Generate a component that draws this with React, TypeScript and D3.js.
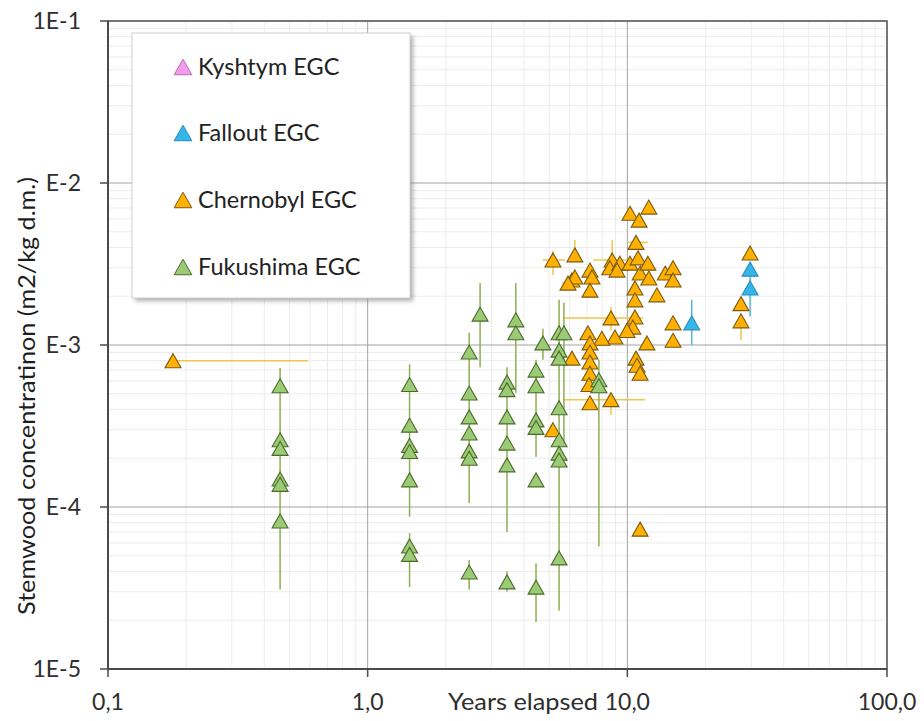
import React from 'react';
import * as d3 from 'd3';

// ---------- DATA ----------
const legendLabels = ['Kyshtym EGC', 'Fallout EGC', 'Chernobyl EGC', 'Fukushima EGC'];

const xTickValues = [0.1, 1, 10, 100];
const xTickLabels = ['0,1', '1,0', '10,0', '100,0'];
const yTickValues = [1e-1, 1e-2, 1e-3, 1e-4, 1e-5];
const yTickLabels = ['1E-1', 'E-2', 'E-3', 'E-4', '1E-5'];

const kyshtymYears: number[] = [];
const kyshtymConc: number[] = [];

const falloutYears = [17.7, 29.7, 29.7];
const falloutConc = [1.37e-3, 2.94e-3, 2.25e-3];
const falloutLow = [1.0e-3, null, 1.5e-3];
const falloutHigh = [1.9e-3, null, 2.94e-3];

const chernobylYears = [
  0.178, 5.17, 6.28, 6.12, 6.28, 5.91, 7.18, 7.31, 7.18, 8.74,
  8.56, 9.36, 9.13, 10.24, 12.1, 11.1, 10.8, 10.24, 11.0, 11.2,
  12.0, 12.1, 10.7, 10.7, 13.0, 14.0, 15.0, 15.0, 8.65, 10.7,
  10.5, 9.97, 8.96, 7.98, 7.05, 7.18, 7.18, 7.18, 7.18, 7.12,
  6.12, 11.9, 10.8, 10.9, 11.2, 7.18, 8.65, 5.17, 15.0, 15.0,
  27.4, 27.4, 29.7, 11.2,
];
const chernobylConc = [
  8.0e-4, 3.35e-3, 3.6e-3, 2.52e-3, 2.63e-3, 2.41e-3, 2.9e-3, 2.63e-3, 2.18e-3, 3.35e-3,
  3.0e-3, 3.2e-3, 2.9e-3, 6.5e-3, 7.1e-3, 5.9e-3, 4.3e-3, 3.2e-3, 3.45e-3, 2.78e-3,
  3.2e-3, 2.59e-3, 2.25e-3, 1.9e-3, 2.04e-3, 2.78e-3, 3.0e-3, 2.52e-3, 1.47e-3, 1.49e-3,
  1.29e-3, 1.23e-3, 1.12e-3, 1.1e-3, 1.19e-3, 1.03e-3, 9.05e-4, 7.85e-4, 6.7e-4, 5.7e-4,
  8.3e-4, 1.03e-3, 8.3e-4, 7.5e-4, 6.7e-4, 4.4e-4, 4.6e-4, 3.0e-4, 1.37e-3, 1.07e-3,
  1.8e-3, 1.41e-3, 3.7e-3, 7.3e-5,
];
// error bars (null = none)
const chernobylYearsLow: (number | null)[] = [
  null, 4.73, null, null, null, 5.6, null, null, null, 7.4,
  null, null, null, null, null, null, 10.0, null, null, null,
  null, null, null, null, null, null, null, null, 5.65, null,
  null, null, null, null, null, null, null, null, null, null,
  null, null, null, null, null, null, 5.65, null, null, null,
  null, null, null, null,
];
const chernobylYearsHigh: (number | null)[] = [
  0.59, 5.75, null, null, null, 6.3, null, null, null, 10.5,
  null, null, null, null, null, null, 12.0, null, null, null,
  null, null, null, null, null, null, null, null, 11.5, null,
  null, null, null, null, null, null, null, null, null, null,
  null, null, null, null, null, null, 11.7, null, null, null,
  null, null, null, null,
];
const chernobylLow: (number | null)[] = [
  null, 2.7e-3, null, null, null, null, null, null, null, null,
  null, null, null, null, null, null, null, null, null, null,
  null, null, null, null, null, null, null, null, 1.23e-3, null,
  null, null, null, null, null, null, null, null, null, null,
  null, null, null, null, null, null, 3.7e-4, null, null, null,
  null, 1.07e-3, null, null,
];
const chernobylHigh: (number | null)[] = [
  null, 3.8e-3, 4.45e-3, null, null, null, null, null, null, 4.45e-3,
  null, null, null, null, null, null, null, null, null, null,
  null, null, null, null, null, null, null, null, 1.72e-3, null,
  null, null, null, null, null, null, null, null, null, null,
  null, null, null, null, null, null, null, null, null, null,
  null, null, null, null,
];

const fukushimaYears = [
  0.46, 0.46, 0.46, 0.46, 0.46, 0.46,
  1.45, 1.45, 1.45, 1.45, 1.45, 1.45, 1.45,
  2.46, 2.46, 2.46, 2.46, 2.46, 2.46, 2.46,
  2.71,
  3.44, 3.44, 3.44, 3.44, 3.44, 3.44,
  3.72, 3.72,
  4.45, 4.45, 4.45, 4.45, 4.45, 4.45,
  4.73,
  5.46, 5.46, 5.46, 5.46, 5.46, 5.46, 5.46, 5.46,
  5.70,
  7.77, 7.77,
];
const fukushimaConc = [
  5.6e-4, 2.6e-4, 2.3e-4, 1.49e-4, 1.38e-4, 8.2e-5,
  5.7e-4, 3.2e-4, 2.4e-4, 2.2e-4, 1.47e-4, 5.75e-5, 5.1e-5,
  9.05e-4, 5.05e-4, 3.6e-4, 2.86e-4, 2.22e-4, 2.0e-4, 3.97e-5,
  1.55e-3,
  5.9e-4, 5.3e-4, 3.6e-4, 2.48e-4, 1.82e-4, 3.45e-5,
  1.43e-3, 1.19e-3,
  7.0e-4, 5.6e-4, 3.45e-4, 3.1e-4, 1.47e-4, 3.2e-5,
  1.03e-3,
  1.19e-3, 9.3e-4, 8.3e-4, 4.1e-4, 2.6e-4, 2.15e-4, 1.95e-4, 4.85e-5,
  1.19e-3,
  6.1e-4, 5.6e-4,
];
const fukushimaLow: (number | null)[] = [
  1.4e-4, null, null, null, null, 3.1e-5,
  8.7e-5, null, null, null, null, 3.2e-5, null,
  1.06e-4, null, null, null, null, null, 3.1e-5,
  7.3e-4,
  7.0e-5, null, null, null, null, 3.0e-5,
  5.05e-4, null,
  2.04e-4, null, null, null, null, 1.95e-5,
  8.1e-4,
  2.3e-5, null, null, null, null, null, null, null,
  2.35e-4,
  5.7e-5, null,
];
const fukushimaHigh: (number | null)[] = [
  7.2e-4, null, null, null, null, 1.4e-4,
  7.6e-4, null, null, null, null, 6.9e-5, null,
  1.19e-3, null, null, null, null, null, 4.7e-5,
  2.41e-3,
  7.3e-4, null, null, null, null, 4.0e-5,
  2.41e-3, null,
  8.1e-4, null, null, null, null, 4.5e-5,
  1.26e-3,
  1.9e-3, null, null, null, null, null, null, null,
  1.82e-3,
  8.1e-4, null,
];

// ---------- STYLE ----------
const W = 924;
const H = 721;
const plot = { left: 108, right: 887, top: 21, bottom: 669 };
const FONT = 'Lato, "Open Sans", sans-serif';

const seriesStyle = [
  { fill: '#F49CEB', stroke: '#B86AB0', err: '#E39BDD' },
  { fill: '#35B6EA', stroke: '#2C8DB8', err: '#4FB7E0' },
  { fill: '#FFB000', stroke: '#7A5A10', err: '#F3C547' },
  { fill: '#9CCB75', stroke: '#4B6A2A', err: '#8EAF52' },
];

const triangle: d3.SymbolType = {
  draw(context, size) {
    const s = Math.sqrt(size);
    const hw = s * 0.57;
    const hh = s * 0.5;
    context.moveTo(0, -hh);
    context.lineTo(hw, hh);
    context.lineTo(-hw, hh);
    context.closePath();
  },
};

export default function App() {
  const x = d3.scaleLog().domain([0.1, 100]).range([plot.left, plot.right]);
  const y = d3.scaleLog().domain([1e-5, 0.1]).range([plot.bottom, plot.top]);
  const markerPath = d3.symbol().type(triangle).size(196)() as string;
  const legendMarker = d3.symbol().type(triangle).size(240)() as string;

  const series = [
    { xs: kyshtymYears, ys: kyshtymConc, lo: [] as (number | null)[], hi: [] as (number | null)[], xlo: [] as (number | null)[], xhi: [] as (number | null)[] },
    { xs: falloutYears, ys: falloutConc, lo: falloutLow, hi: falloutHigh, xlo: [], xhi: [] },
    { xs: chernobylYears, ys: chernobylConc, lo: chernobylLow, hi: chernobylHigh, xlo: chernobylYearsLow, xhi: chernobylYearsHigh },
    { xs: fukushimaYears, ys: fukushimaConc, lo: fukushimaLow, hi: fukushimaHigh, xlo: [], xhi: [] },
  ];

  const minorX: number[] = [];
  [0.1, 1, 10].forEach((dec) => { for (let k = 2; k <= 9; k++) minorX.push(k * dec); });
  const minorY: number[] = [];
  [1e-5, 1e-4, 1e-3, 1e-2].forEach((dec) => { for (let k = 2; k <= 9; k++) minorY.push(k * dec); });

  const legendRows = [67, 133, 200, 267];

  return (
    <svg width={W} height={H} style={{ position: 'absolute', left: 0, top: 0, background: '#fff' }} fontFamily={FONT}>
      <defs>
        <filter id="shadow" x="-10%" y="-10%" width="130%" height="130%">
          <feGaussianBlur stdDeviation="2" />
        </filter>
      </defs>
      <rect x={0} y={0} width={W} height={H} fill="#fff" />
      {/* minor grid */}
      {minorX.map((v, i) => (
        <line key={'mx' + i} x1={x(v)} x2={x(v)} y1={plot.top} y2={plot.bottom} stroke="#ececec" strokeWidth={1} />
      ))}
      {minorY.map((v, i) => (
        <line key={'my' + i} x1={plot.left} x2={plot.right} y1={y(v)} y2={y(v)} stroke="#ececec" strokeWidth={1} />
      ))}
      {/* major grid */}
      {xTickValues.map((v, i) => (
        <line key={'Mx' + i} x1={x(v)} x2={x(v)} y1={plot.top} y2={plot.bottom} stroke="#a3a3a3" strokeWidth={1} />
      ))}
      {yTickValues.map((v, i) => (
        <line key={'My' + i} x1={plot.left} x2={plot.right} y1={y(v)} y2={y(v)} stroke="#a3a3a3" strokeWidth={1} />
      ))}
      {/* border */}
      <rect x={plot.left} y={plot.top} width={plot.right - plot.left} height={plot.bottom - plot.top} fill="none" stroke="#5a5a5a" strokeWidth={1.5} />
      <line x1={plot.left} x2={plot.left} y1={plot.top} y2={plot.bottom} stroke="#4a4a4a" strokeWidth={2} />
      <line x1={plot.left} x2={plot.right} y1={plot.bottom} y2={plot.bottom} stroke="#4a4a4a" strokeWidth={2} />
      {/* ticks */}
      {yTickValues.map((v, i) => (
        <g key={'yt' + i}>
          <line x1={plot.left - 8} x2={plot.left} y1={y(v)} y2={y(v)} stroke="#4a4a4a" strokeWidth={1.5} />
          <text x={81} y={y(v)} dy="0.36em" textAnchor="end" fontSize={23} fill="#2e2e2e">{yTickLabels[i]}</text>
        </g>
      ))}
      {xTickValues.map((v, i) => (
        <g key={'xt' + i}>
          <line x1={x(v)} x2={x(v)} y1={plot.bottom} y2={plot.bottom + 8} stroke="#4a4a4a" strokeWidth={1.5} />
          <text x={x(v)} y={710} textAnchor="middle" fontSize={23} fill="#2e2e2e">{xTickLabels[i]}</text>
        </g>
      ))}
      <text x={448} y={710} fontSize={23} fill="#2e2e2e" textLength={150} lengthAdjust="spacingAndGlyphs">Years elapsed</text>
      <text transform={`translate(35,${396}) rotate(-90)`} textAnchor="middle" fontSize={24} fill="#1e1e1e" textLength={438} lengthAdjust="spacingAndGlyphs">
        Stemwood concentratinon (m2/kg d.m.)
      </text>

      {/* series */}
      {series.map((s, si) => {
        const st = seriesStyle[si];
        return (
          <g key={'s' + si}>
            {s.xs.map((xv, i) => {
              const lo = s.lo[i];
              const hi = s.hi[i];
              const xlo = s.xlo[i];
              const xhi = s.xhi[i];
              return (
                <g key={'e' + i}>
                  {(lo != null || hi != null) && (
                    <line x1={x(xv)} x2={x(xv)} y1={y(lo ?? s.ys[i])} y2={y(hi ?? s.ys[i])} stroke={st.err} strokeWidth={1.5} />
                  )}
                  {(xlo != null || xhi != null) && (
                    <line x1={x(xlo ?? xv)} x2={x(xhi ?? xv)} y1={y(s.ys[i])} y2={y(s.ys[i])} stroke={st.err} strokeWidth={1.5} />
                  )}
                </g>
              );
            })}
            {s.xs.map((xv, i) => (
              <path key={'m' + i} d={markerPath} transform={`translate(${x(xv)},${y(s.ys[i])})`} fill={st.fill} stroke={st.stroke} strokeWidth={1.1} />
            ))}
          </g>
        );
      })}

      {/* legend */}
      <rect x={135} y={36} width={278} height={265} fill="#8a8a8a" opacity={0.7} filter="url(#shadow)" />
      <rect x={132} y={33} width={278} height={265} fill="#fff" stroke="#d0d0d0" strokeWidth={1} />
      {legendLabels.map((lab, i) => (
        <g key={'lg' + i}>
          <path d={legendMarker} transform={`translate(183,${legendRows[i]})`} fill={seriesStyle[i].fill} stroke={seriesStyle[i].stroke} strokeWidth={1} />
          <text x={198} y={legendRows[i]} dy="0.36em" fontSize={23.5} fill="#222">{lab}</text>
        </g>
      ))}
    </svg>
  );
}
